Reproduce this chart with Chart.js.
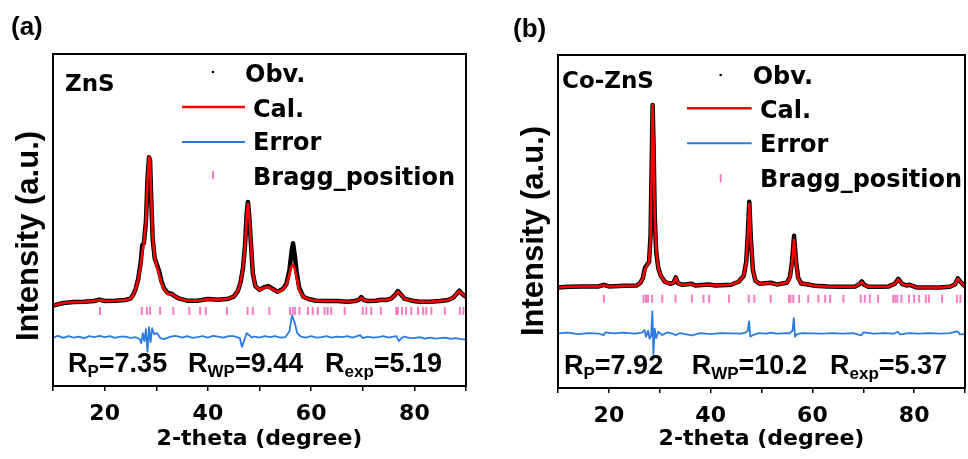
<!DOCTYPE html>
<html>
<head>
<meta charset="utf-8">
<script src="https://cdn.jsdelivr.net/npm/chart.js@4"></script>
<style>
  html, body { margin: 0; padding: 0; background: #fff; overflow: hidden; width: 968px; height: 459px; }
  canvas { position: absolute; top: 0; }
  #chartA { left: 0; }
  #chartB { left: 485px; }
</style>
</head>
<body>
<canvas id="chartA" width="484" height="459"></canvas>
<canvas id="chartB" width="490" height="459"></canvas>
<script>
// ---- (a) ZnS ----
const thetaA = [10,12,14,16,18, 19,20,22,24,25, 25.5,26,26.5,27,27.3, 27.6,28,28.3,28.6,28.8,
  29,29.3,29.7,30.1,30.5, 31,31.5,32.2,33,33.5, 34.5,36,38,40,42, 44,45,45.8,46.3,46.8,
  47.2,47.5,47.75,48,48.3, 48.7,49.2,50,51,51.7, 52.5,53.5,54.5,55.2,55.8, 56.2,56.5,56.8,57.2,57.7,
  58.5,59.5,61,63,65, 67,68.5,69.3,69.7,70.2, 71,72.5,73.6,74.5,75.5, 76.3,76.8,77.3,78.1,79.5,
  81,83,85,86.5,87.5, 88.2,88.7,89.2,90];
const obsA = [242,250,253,254,256, 260,256,257,259,263, 274,292,322,373,424, 430,494,620,689,680,
  575,445,385,367,349, 316,295,280,278,271, 263,257,257,262,260, 263,269,286,310,355,
  424,515,554,515,439, 340,301,290,298,301, 293,284,292,307,349, 403,430,397,343,295,
  269,262,257,256,256, 254,256,260,268,259, 256,257,260,259,263, 275,286,277,263,257,
  254,254,256,259,266, 278,287,278,268];
const calA = [242,250,253,254,256, 259,256,257,259,263, 273,291,320,364,403, 427,494,614,689,686,
  584,452,385,361,340, 310,292,278,277,271, 263,257,257,261,260, 263,269,286,310,355,
  421,506,549,515,445, 340,301,290,296,299, 292,284,290,304,337, 361,364,355,325,289,
  268,262,257,256,256, 254,256,260,266,259, 256,257,259,259,263, 274,284,277,263,257,
  254,254,256,259,266, 278,286,278,268];
const errThetaA = [10,11,12,13,14, 15,16,17,18,19, 20,21,22,23,24, 25,26,26.8,27.1,27.4,
  27.7,28,28.3,28.6,28.9, 29.2,29.6,30.2,30.8,31.5, 32.5,33.5,34,35,36, 37,38,39,40,41,
  42,43,44,45,46.2, 46.6,47,47.5,48,48.5, 49,50,51,52,53, 54,55,55.8,56.3,56.8,
  57.3,58,59,60,61, 62,63,64,65,66, 67,68,69.5,70,71, 72,73,74,75,76.5,
  77,77.5,78,79,80, 81,82,83,84,85, 86,87,88,89,90];
const errA = [-2,3,-3,2,-2, 1,-4,2,-1,3, -1,2,-3,1,1, -3,-1,-7,-19,11,
  -13,23,-45,29,-16, 26,8,11,-4,-7, -1,3,2,-2,2, -3,-1,2,-2,3,
  1,-2,2,2,-4, -30,-13,11,5,-2, 1,-2,2,-1,2, -2,-1,17,65,44,
  11,1,-2,2,-2, -1,2,-2,1,-1, 2,-2,5,-4,1, -2,-1,2,-2,2,
  -13,-4,1,-3,-4, -1,-5,-2,-5,-4, -2,-6,-4,-7,-8];
const braggA = [19.1,27.2,28.2,28.8,30.75,33.3,36.4,38.5,39.6,43.7,47.7,48.7,51.9,55.9,56.45,56.9,57.75,
  59.4,60.3,61.3,62.6,63.2,63.9,66.5,70.0,70.7,71.65,73.5,76.5,76.8,77.6,78.4,79.4,80.7,81.7,82.3,83.3,
  85.9,88.8,89.5];
const errOffsetA = 148;
const braggLevelA = 226;

// ---- (b) Co-ZnS ----
const thetaB = [10,12,15,18,19, 20,23,25.5,26.2,26.7, 27.1,27.5,27.9,28.2,28.4, 28.6,28.8,29,29.3,29.7,
  30.2,31,32,32.7,33.15, 33.6,34.5,36.3,37,39.6, 41,44,45.5,46.5,47, 47.3,47.6,47.9,48.3,48.8,
  49.6,51.8,53,55,55.6, 56,56.4,56.8,57.2,57.8, 59.2,60.5,63,66,68.5, 69.3,69.7,70.2,71,73,
  75,76.2,76.9,77.6,78.5, 79.1,80.5,83,85,87, 88,88.6,89.1,90];
const obsB = [302,304,305,305,310, 305,307,308,316,331, 361,370,379,460,655, 850,715,520,409,361,
  337,319,313,316,332, 314,310,313,308,311, 308,310,319,337,379, 460,559,451,355,322,
  313,316,311,316,334, 379,457,379,331,314, 311,307,305,304,305, 313,320,310,304,304,
  305,313,328,313,308, 310,302,302,302,304, 311,329,319,305];
const calB = [302,304,305,305,309, 305,307,308,316,331, 355,367,379,457,649, 850,721,529,415,361,
  337,319,313,316,331, 314,310,312,308,310, 308,310,319,337,376, 457,553,454,355,322,
  313,315,311,316,331, 373,445,373,328,314, 311,307,305,304,305, 313,319,310,304,304,
  305,313,326,313,308, 310,302,302,302,304, 311,328,319,305];
const errThetaB = [10,12,14,16,18, 19,19.3,21,23,25, 26.5,27,27.3,27.7,28, 28.3,28.55,28.75,29,29.3,
  29.7,30.5,31.5,32.5,33.2, 34,35,36.3,38,40, 42,44,46,46.8,47.3, 47.55,47.8,48.3,49.5,51,
  51.8,53,55,55.5,56.1, 56.35,56.6,57,58,60, 62,64,66,68,69.6, 70,72,74,76,76.8,
  77.2,79,81,83,85, 87,88.5,89,90];
const errB = [0,2,-2,1,-1, -5,3,0,2,-1, 2,10,-10,8,-16, -8,66,-62,14,-14,
  5,-5,3,-1,-5, 1,-2,-6,1,-2, 1,0,-1,2,8, 36,-10,-5,1,-1,
  2,-1,1,0,8, 46,-10,-2,1,0, -1,1,-1,1,-6, 3,-1,1,-1,5,
  -3,1,-1,1,-1, 1,6,-3,-2];
const braggB = [19.0,26.8,27.3,27.7,28.5,30.5,33.1,36.3,38.6,39.7,43.6,47.5,48.6,51.8,55.4,55.7,56.25,
  57.4,59.2,61.2,62.5,63.5,66.1,69.5,70.3,71.3,72.9,75.9,76.3,76.7,77.5,79.0,80.0,81.0,82.3,82.9,
  85.5,88.4,89.1];
const errOffsetB = 164;
const braggLevelB = 268;

const RED = '#ff0000', BLUE = '#2a7be0', PINK = '#f47cc4';

const toPoints = (xs, ys, off = 0) => xs.map((x, i) => ({ x: x, y: ys[i] + off }));

// frame, legend, labels and R factors
const decor = {
  id: 'decor',
  afterDraw(chart, args, o) {
    const ctx = chart.ctx, a = chart.chartArea;
    const ds = chart.data.datasets;
    ctx.save();
    ctx.strokeStyle = '#000';
    ctx.lineWidth = 2;
    ctx.strokeRect(a.left, a.top, a.right - a.left, a.bottom - a.top);

    ctx.fillStyle = '#000';
    ctx.textAlign = 'left';
    ctx.textBaseline = 'alphabetic';
    ctx.font = 'bold 26px "Liberation Sans"';
    ctx.fillText(o.panel, o.panelX, o.panelY);
    ctx.font = 'bold 23px "DejaVu Sans"';
    ctx.fillText(o.sample, o.sampleX, o.sampleY);

    // legend
    ctx.font = 'bold 24px "DejaVu Sans"';
    ctx.beginPath();
    ctx.arc(o.obvMark[0], o.obvMark[1], 1.3, 0, Math.PI * 2);
    ctx.fill();
    ctx.lineWidth = 2.5;
    ctx.strokeStyle = RED;
    ctx.beginPath(); ctx.moveTo(o.lineX[0], o.lineY[0]); ctx.lineTo(o.lineX[1], o.lineY[0]); ctx.stroke();
    ctx.lineWidth = 2;
    ctx.strokeStyle = BLUE;
    ctx.beginPath(); ctx.moveTo(o.lineX[0], o.lineY[1]); ctx.lineTo(o.lineX[1], o.lineY[1]); ctx.stroke();
    ctx.strokeStyle = PINK;
    ctx.beginPath(); ctx.moveTo(o.braggMark[0], o.braggMark[1] - 4); ctx.lineTo(o.braggMark[0], o.braggMark[1] + 4); ctx.stroke();
    [ds[1], ds[0], ds[2], ds[3]].forEach((d, i) => ctx.fillText(d.label, o.textX[i], o.textY[i]));

    // R factors
    o.rText.forEach(([main, sub, val, x]) => {
      ctx.font = 'bold 27px "Liberation Sans"';
      ctx.fillText(main, x, o.rY);
      let w = ctx.measureText(main).width;
      ctx.font = 'bold 17px "Liberation Sans"';
      ctx.fillText(sub, x + w, o.rY + 5);
      w += ctx.measureText(sub).width;
      ctx.font = 'bold 27px "Liberation Sans"';
      ctx.fillText(val, x + w, o.rY);
    });

    // y title
    ctx.translate(o.yTitle[0], o.yTitle[1]);
    ctx.rotate(-Math.PI / 2);
    ctx.textAlign = 'center';
    ctx.textBaseline = 'middle';
    ctx.font = 'bold 31px "Liberation Sans"';
    ctx.fillText('Intensity (a.u.)', 0, 0);
    ctx.restore();
  }
};

function makeChart(id, d) {
  return new Chart(document.getElementById(id), {
    type: 'scatter',
    data: {
      datasets: [
        { label: 'Cal.', data: toPoints(d.theta, d.cal), showLine: true, borderColor: RED, borderWidth: 2.5,
          borderJoinStyle: 'round', pointRadius: 0, order: 0 },
        { label: 'Obv.', data: toPoints(d.theta, d.obs), showLine: true, borderColor: '#000', borderWidth: 4.5,
          borderJoinStyle: 'round', pointRadius: 0, order: 1 },
        { label: 'Error', data: toPoints(d.errTheta, d.err, d.errOffset), showLine: true, borderColor: BLUE,
          borderWidth: 1.8, borderJoinStyle: 'round', pointRadius: 0, order: 2 },
        { label: 'Bragg_position', data: d.bragg.map(x => ({ x: x, y: d.braggLevel })), showLine: false,
          pointStyle: 'line', rotation: 90, pointRadius: 4, borderColor: PINK, borderWidth: 2, order: 3 }
      ]
    },
    options: {
      responsive: false,
      animation: false,
      events: [],
      layout: { padding: d.padding },
      scales: {
        x: {
          type: 'linear', min: 10, max: 90,
          afterFit: (s) => { s.height = d.axisHeight; },
          border: { display: false },
          grid: { display: true, drawOnChartArea: false, drawTicks: true, tickLength: 5, color: '#000', lineWidth: 1.5 },
          ticks: {
            stepSize: 10, autoSkip: false, maxRotation: 0, padding: 10, color: '#000',
            font: { family: 'DejaVu Sans', weight: 'bold', size: 22 },
            callback: (v) => (v % 20 === 0 ? v : '')
          },
          title: {
            display: true, text: '2-theta (degree)', color: '#000',
            font: { family: 'DejaVu Sans', weight: 'bold', size: 22 },
            padding: { top: 0, bottom: 7 }
          }
        },
        y: { display: false, min: 0, max: 1000 }
      },
      plugins: {
        legend: { display: false },
        tooltip: { enabled: false },
        decor: d.decor
      }
    },
    plugins: [decor]
  });
}

makeChart('chartA', {
  theta: thetaA, obs: obsA, cal: calA, errTheta: errThetaA, err: errA, errOffset: errOffsetA,
  bragg: braggA, braggLevel: braggLevelA,
  padding: { left: 53, top: 54, right: 18, bottom: 0 }, axisHeight: 73,
  decor: {
    panel: '(a)', panelX: 11, panelY: 35,
    sample: 'ZnS', sampleX: 65, sampleY: 91,
    obvMark: [213, 72], lineX: [182, 245], lineY: [107, 142], braggMark: [213, 175],
    textX: [245, 253, 253, 253], textY: [81.5, 116.5, 150, 185],
    rText: [['R', 'P', '=7.35', 68], ['R', 'WP', '=9.44', 188], ['R', 'exp', '=5.19', 325]], rY: 372,
    yTitle: [29, 236]
  }
});

makeChart('chartB', {
  theta: thetaB, obs: obsB, cal: calB, errTheta: errThetaB, err: errB, errOffset: errOffsetB,
  bragg: braggB, braggLevel: braggLevelB,
  padding: { left: 73, top: 55, right: 5, bottom: 0 }, axisHeight: 71,
  decor: {
    panel: '(b)', panelX: 28, panelY: 37,
    sample: 'Co-ZnS', sampleX: 77, sampleY: 87.5,
    obvMark: [235.7, 75], lineX: [202, 266.7], lineY: [108.3, 143.3], braggMark: [235.7, 178.3],
    textX: [267.7, 275, 275, 275], textY: [84, 118.3, 151.7, 186.7],
    rText: [['R', 'P', '=7.92', 79], ['R', 'WP', '=10.2', 206.7], ['R', 'exp', '=5.37', 345]], rY: 373.5,
    yTitle: [49, 231]
  }
});
</script>
</body>
</html>
